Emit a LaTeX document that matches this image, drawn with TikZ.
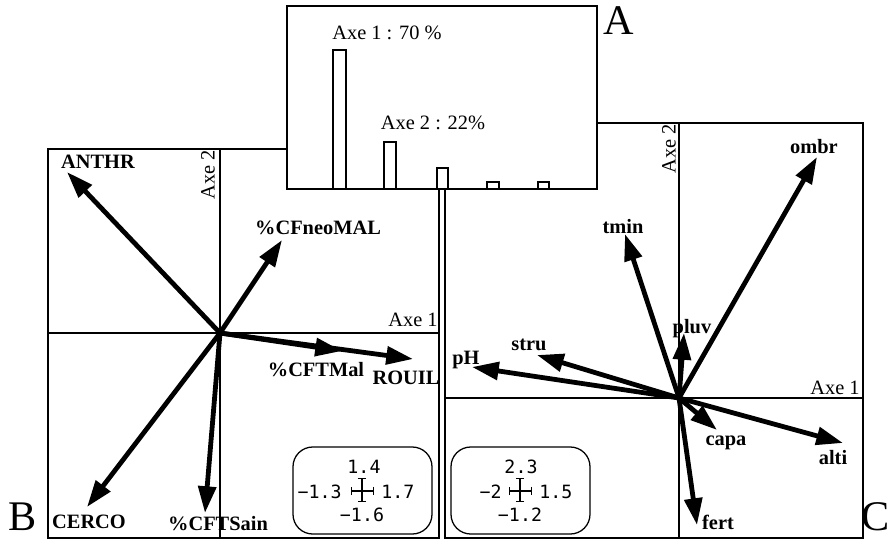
\documentclass[tikz,border=0pt]{standalone}
\usepackage{fontspec}
\setmainfont{Liberation Serif}
\newfontfamily\scalefont{DejaVu Sans Mono}
\usetikzlibrary{arrows.meta}

\begin{document}
\begin{tikzpicture}[x=0.025cm,y=-0.025cm,
    panelframe/.style={line width=1.4pt},
    histbar/.style={line width=1.4pt,fill=white},
    vec/.style={line width=3.4pt,-{Triangle[length=19pt,width=12.5pt]}},
    varlabel/.style={font=\fontsize{14.5}{14.5}\selectfont\bfseries,inner sep=0pt},
    axelabel/.style={font=\fontsize{14.5}{14.5}\selectfont,inner sep=0pt},
    panelletter/.style={font=\fontsize{30}{30}\selectfont,inner sep=0pt},
    scalenum/.style={font=\scalefont\fontsize{13}{13}\selectfont,inner sep=0pt},
    scalebox/.style={line width=0.9pt,rounded corners=14pt},
    scalebar/.style={line width=0.9pt,{Bar[width=6pt]}-{Bar[width=6pt]}}]
    \useasboundingbox (0,0) rectangle (889,542);

    % panels B and C with their axes
    \draw [panelframe] (48,149) rectangle (439,538);
    \draw [panelframe] (445,123) rectangle (863,538);
    \draw [panelframe] (220,149) -- (220,538);
    \draw [panelframe] (48,333) -- (439,333);
    \draw [panelframe] (679,123) -- (679,538);
    \draw [panelframe] (445,398) -- (863,398);

    % panel A: eigenvalues
    \draw [histbar] (287,6) rectangle (597,189);
    \draw [histbar] (333,189) rectangle (346,50);
    \draw [histbar] (384,189) rectangle (396,142);
    \draw [histbar] (437,189) rectangle (448,168);
    \draw [histbar] (487,189) rectangle (499,182);
    \draw [histbar] (538,189) rectangle (549,182);
    \node [axelabel] (eig1) at (387,33) {Axe 1 : 70 \%};
    \node [axelabel] (eig2) at (433,123) {Axe 2 : 22\%};

    % panel B
    \coordinate (oB) at (220,333);
    \node [axelabel,rotate=90] (axe2B) at (208,175) {Axe 2};
    \node [axelabel] (axe1B) at (413,320) {Axe 1};
    \coordinate (tAnthr) at (67,172);
    \coordinate (tNeo) at (282,240);
    \coordinate (tTMal) at (342,351);
    \coordinate (tRouil) at (413,359);
    \coordinate (tCerco) at (87,507);
    \coordinate (tSain) at (205,513);
    \draw [vec] (oB) -- (tAnthr);
    \draw [vec] (oB) -- (tNeo);
    \draw [vec] (oB) -- (tRouil);
    \draw [vec] (oB) -- (tTMal);
    \draw [vec] (oB) -- (tCerco);
    \draw [vec] (oB) -- (tSain);
    \node [varlabel] (anthr) at (98,162) {ANTHR};
    \node [varlabel] (neo) at (318,228) {\%CFneoMAL};
    \node [varlabel] (tmal) at (316,370) {\%CFTMal};
    \node [varlabel] (rouil) at (406,378) {ROUIL};
    \node [varlabel] (cerco) at (89,522) {CERCO};
    \node [varlabel] (sain) at (218,524) {\%CFTSain};

    % panel C
    \coordinate (oC) at (679,398);
    \node [axelabel,rotate=90] (axe2C) at (669,149) {Axe 2};
    \node [axelabel] (axe1C) at (835,388) {Axe 1};
    \coordinate (tOmbr) at (817,157);
    \coordinate (tTmin) at (625,234);
    \coordinate (tPluv) at (684,333);
    \coordinate (tStru) at (537,355);
    \coordinate (tPH) at (472,367);
    \coordinate (tCapa) at (717,430);
    \coordinate (tAlti) at (843,443);
    \coordinate (tFert) at (697,525);
    \draw [vec] (oC) -- (tOmbr);
    \draw [vec] (oC) -- (tTmin);
    \draw [vec] (oC) -- (tPluv);
    \draw [vec] (oC) -- (tStru);
    \draw [vec] (oC) -- (tPH);
    \draw [vec] (oC) -- (tCapa);
    \draw [vec] (oC) -- (tAlti);
    \draw [vec] (oC) -- (tFert);
    \node [varlabel] (ombr) at (814,147) {ombr};
    \node [varlabel] (tmin) at (623,227) {tmin};
    \node [varlabel] (pluv) at (692,329) {pluv};
    \node [varlabel] (stru) at (529,345) {stru};
    \node [varlabel] (ph) at (466,360) {pH};
    \node [varlabel] (capa) at (726,443) {capa};
    \node [varlabel] (alti) at (833,458) {alti};
    \node [varlabel] (fert) at (718,522) {fert};

    % scale boxes
    \draw [scalebox] (293,447) rectangle (432,534);
    \draw [scalebar] (351,491) -- (374,491);
    \draw [scalebar] (362,478) -- (362,502);
    \node [scalenum] (sB1) at (364,467) {1.4};
    \node [scalenum,anchor=east] (sB2) at (342,492) {−1.3};
    \node [scalenum,anchor=west] (sB3) at (381,492) {1.7};
    \node [scalenum] (sB4) at (362,515) {−1.6};
    \draw [scalebox] (451,447) rectangle (590,534);
    \draw [scalebar] (509,491) -- (532,491);
    \draw [scalebar] (520,478) -- (520,502);
    \node [scalenum] (sC1) at (521,467) {2.3};
    \node [scalenum,anchor=east] (sC2) at (502,492) {−2};
    \node [scalenum,anchor=west] (sC3) at (539,492) {1.5};
    \node [scalenum] (sC4) at (520,515) {−1.2};

    % panel letters
    \node [panelletter] (letA) at (619,21) {A};
    \node [panelletter] (letB) at (23,517) {B};
    \node [panelletter] (letC) at (876,517) {C};
\end{tikzpicture}
\end{document}
